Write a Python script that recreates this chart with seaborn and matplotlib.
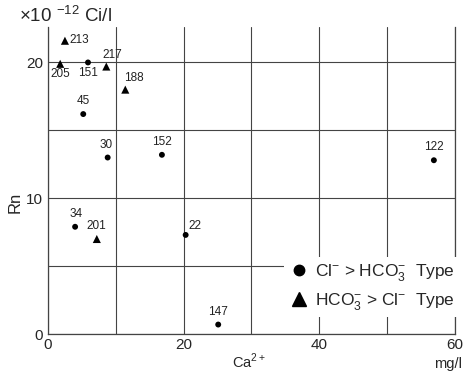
import numpy as np
import pandas as pd
import matplotlib
matplotlib.use('Agg')
import matplotlib.pyplot as plt
import seaborn as sns

# sample ids, Ca2+ (mg/l), Rn (x10^-12 Ci/l), water type
ids = ['213', '205', '151', '217', '188', '45', '30', '152', '34', '201', '22', '147', '122']
ca = [2.5, 1.8, 5.9, 8.6, 11.4, 5.2, 8.8, 16.8, 4.0, 7.2, 20.3, 25.1, 56.9]
rn = [21.6, 19.9, 20.0, 19.7, 18.0, 16.2, 13.0, 13.2, 7.9, 7.0, 7.3, 0.7, 12.8]
kind = ['HCO', 'HCO', 'Cl', 'HCO', 'HCO', 'Cl', 'Cl', 'Cl', 'Cl', 'HCO', 'Cl', 'Cl', 'Cl']

# label offsets in points (dx, dy, ha, va)
label_pos = {
    '213': (3, -4, 'left', 'bottom'), '205': (0, -3, 'center', 'top'),
    '151': (0, -3, 'center', 'top'), '217': (-3, 4, 'left', 'bottom'),
    '188': (-1, 4, 'left', 'bottom'), '45': (0, 5, 'center', 'bottom'),
    '30': (-1, 5, 'center', 'bottom'), '152': (0, 5, 'center', 'bottom'),
    '34': (1, 5, 'center', 'bottom'), '201': (0, 5, 'center', 'bottom'),
    '22': (2, 2, 'left', 'bottom'), '147': (0, 5, 'center', 'bottom'),
    '122': (0, 5, 'center', 'bottom'),
}

df = pd.DataFrame({'id': ids, 'Ca': ca, 'Rn': rn, 'kind': kind})

sns.set_style('white')
plt.rcParams['font.family'] = ['Liberation Sans', 'DejaVu Sans']
plt.rcParams['mathtext.fontset'] = 'custom'
plt.rcParams['mathtext.rm'] = 'Liberation Sans'

fig = plt.figure(figsize=(4.64, 3.72), dpi=100)
ax = fig.add_axes([0.1034, 0.102, 0.877, 0.825])

sns.scatterplot(data=df, x='Ca', y='Rn', style='kind', markers={'Cl': 'o', 'HCO': '^'},
                size='kind', sizes={'Cl': 18, 'HCO': 34}, color='black',
                edgecolor='none', legend=False, ax=ax, zorder=3)

for _, r in df.iterrows():
    dx, dy, ha, va = label_pos[r['id']]
    ax.annotate(r['id'], (r['Ca'], r['Rn']), xytext=(dx, dy), textcoords='offset points',
                ha=ha, va=va, fontsize=8.5, color='#222222')

ax.set_xlim(0, 60)
ax.set_ylim(0, 22.6)
ax.set_xticks([0, 20, 40, 60])
ax.set_yticks([0, 10, 20])
ax.set_xticks([10, 30, 50], minor=True)
ax.set_yticks([5, 15], minor=True)
ax.grid(which='both', color='#444444', lw=0.8)
ax.tick_params(which='both', length=0, labelsize=11)
ax.tick_params(axis='x', pad=3)
ax.spines['top'].set_visible(False)
for s in ['left', 'bottom', 'right']:
    ax.spines[s].set_color('#444444')
    ax.spines[s].set_linewidth(0.9)
ax.set_xlabel('')
ax.set_ylabel('Rn', fontsize=12)
ax.yaxis.set_label_coords(-0.062, 0.43)

fig.text(0.04, 0.958, r'$\times$10 $^{-12}$ Ci/l', fontsize=13.5, va='center')
fig.text(0.5, 0.012, r'Ca$^{2+}$', fontsize=10.5, ha='left')
fig.text(0.995, 0.012, 'mg/l', fontsize=10.5, ha='right')

handles = [
    plt.Line2D([], [], marker='o', ls='none', color='black', markersize=7.5),
    plt.Line2D([], [], marker='^', ls='none', color='black', markersize=10),
]
labels = [r'Cl$^{-}$ > HCO$_{3}^{-}$  Type', r'HCO$_{3}^{-}$ > Cl$^{-}$  Type']
leg = ax.legend(handles, labels, loc='center right', bbox_to_anchor=(1.01, 0.228),
                bbox_transform=fig.transFigure,
                frameon=True, fontsize=12.5, handletextpad=0.3, borderpad=0.3,
                labelspacing=0.45, handlelength=1.2)
leg.get_frame().set_edgecolor('none')
leg.get_frame().set_facecolor('white')
leg.get_frame().set_alpha(1)
leg.set_zorder(5)

fig.savefig('out.png', dpi=100)
